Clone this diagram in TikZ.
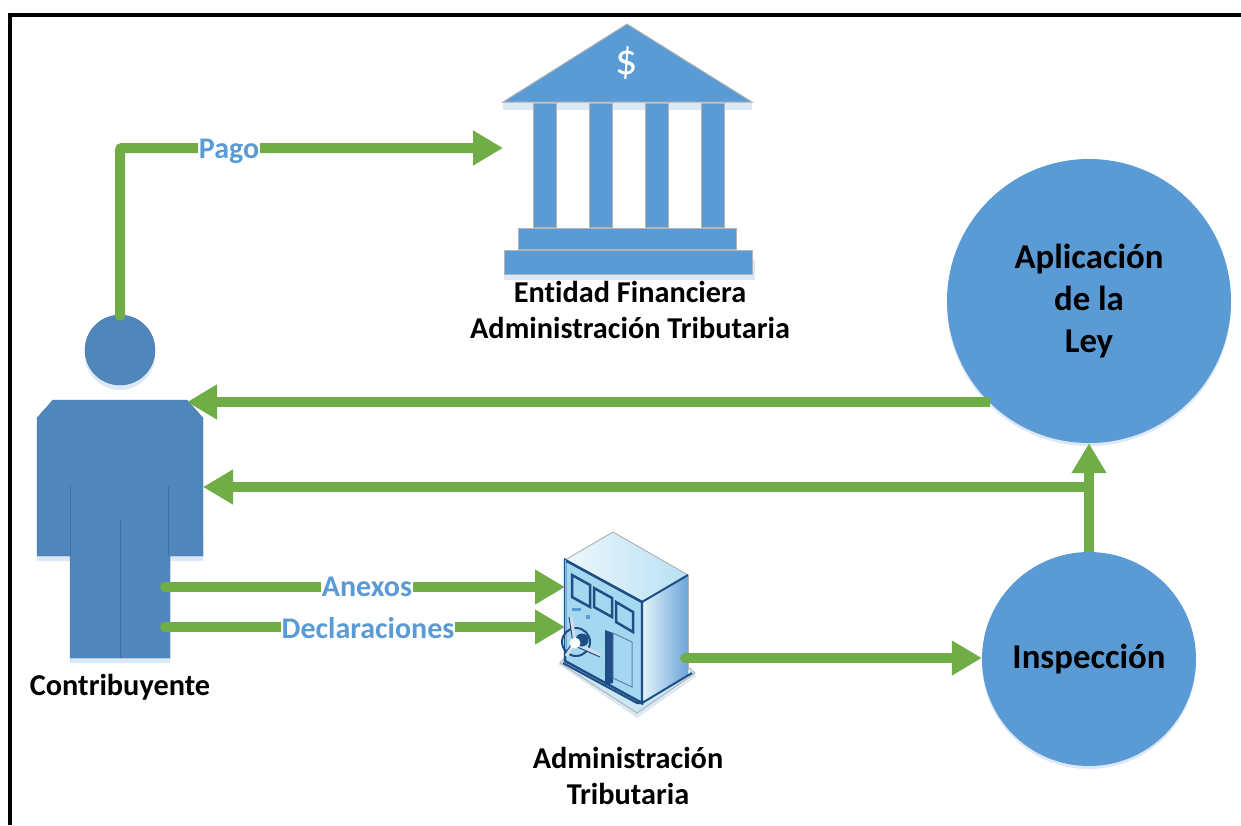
\documentclass[tikz,border=0pt]{standalone}
\usepackage{fontspec}
\setmainfont[RawFeature=-liga]{Carlito}
\usetikzlibrary{arrows.meta}
\definecolor{verde}{HTML}{70AD47}
\definecolor{azul}{HTML}{5B9BD5}
\definecolor{azulper}{HTML}{4F86BB}
\definecolor{linper}{HTML}{41719C}
\definecolor{sombra}{HTML}{DCE8F5}
\definecolor{marino}{HTML}{1F4E85}
\definecolor{celeste}{HTML}{A5D8F0}
\definecolor{borde}{HTML}{B4B4B4}
\begin{document}
\begin{tikzpicture}[x=1pt,y=-1pt,
    flecha/.style={draw=verde,line width=10pt,-{Triangle[length=30pt,width=33pt]}},
    etiqueta/.style={fill=white,text=azul,font=\fontsize{30}{34}\selectfont\bfseries,inner sep=1pt},
    titulo/.style={font=\fontsize{30.3}{36}\selectfont\bfseries,align=center,inner sep=0pt},
    circulo/.style={circle,fill=azul,inner sep=0pt,font=\fontsize{34.8}{42}\selectfont\bfseries,align=center},
    banco/.style={fill=azul,draw=borde,line width=1pt},
    ventana/.style={fill=celeste,draw=marino,line width=2.5pt}]
    \useasboundingbox (0,0) rectangle (1241,825);
    \fill[white] (0,0) rectangle (1241,825);
    \draw[line width=4pt] (10,825) -- (10,15) -- (1241,15);

    \fill[sombra] (120,355) circle (35); \fill[sombra] (37,561) -- (70,561) -- (70,663) -- (170,663) -- (170,561) -- (203,561) -- (203,540) -- (37,540) -- cycle;
    \node[circle,minimum size=70pt,inner sep=0pt,fill=azulper,draw=linper] (cabeza) at (120,350) {};
    \fill[azulper,draw=linper] (53,400) -- (187,400) -- (203,418) -- (203,556) -- (170,556) -- (170,658) -- (70,658) -- (70,556) -- (37,556) -- (37,418) -- cycle;
    \draw[linper,line width=1pt] (70,486) -- (70,556); \draw[linper,line width=1pt] (168,486) -- (168,556); \draw[linper,line width=1pt] (120,520) -- (120,658);
    \node[titulo] (contribuyente) at (120,687) {Contribuyente};
    \coordinate (hombro) at (187,402); \coordinate (cadera) at (203,487);
    \coordinate (piernauno) at (165,587); \coordinate (piernados) at (165,627);

    \fill[sombra] (503,102) rectangle (752,110); \fill[sombra] (504,260) rectangle (755,280);
    \draw[banco] (503,102) -- (627,24) -- (752,102) -- cycle;
    \foreach \x in {533,589,645,701} {\draw[banco] (\x,103) rectangle ++(23,124);}
    \draw[banco] (518,228) rectangle (736,249); \draw[banco] (504,250) rectangle (752,274);
    \node[text=white,font=\fontsize{44}{44}\selectfont,inner sep=0pt] (dolar) at (627,63) {\$};
    \node[titulo] (entidad) at (630,310) {Entidad Financiera\\Administración Tributaria};
    \coordinate (bancoizq) at (503,148);

    \fill[sombra] (558,664) -- (637,718) -- (697,676) -- (640,640) -- cycle;
    \fill[celeste!60!white,draw=borde,line width=1pt] (560,663) -- (565,657) -- (640,697) -- (690,668) -- (695,673) -- (637,713) -- cycle;
    \shade[left color=white!80!celeste,right color=celeste!80!white,draw=borde,line width=1pt] (565,560) -- (613,532) -- (688,575) -- (642,602) -- cycle;
    \fill[ventana,draw=marino] (565,560) -- (642,602) -- (642,703) -- (565,661) -- cycle;
    \shade[left color=white!70!celeste,right color=azul!90!white] (642,602) -- (688,575) -- (688,675) -- (642,703) -- cycle;
    \draw[marino,line width=2pt] (565,560) -- (642,602) -- (688,575); \draw[marino,line width=2pt] (642,602) -- (642,703) -- (692,673);
    \draw[marino,line width=2pt] (563,663) -- (637,703) -- (642,703);
    \draw[borde,line width=1pt] (688,575) -- (688,670); \draw[borde,line width=1pt] (565,560) -- (565,650);
    \draw[ventana] (572,575) -- (590,585) -- (590,607) -- (572,597) -- cycle;
    \draw[ventana] (594,588) -- (612,598) -- (612,617) -- (594,607) -- cycle;
    \draw[ventana] (616,602) -- (633,612) -- (633,632) -- (616,622) -- cycle;
    \fill[marino] (605,630) -- (613,633) -- (613,683) -- (605,685) -- cycle;
    \draw[fill=celeste,draw=marino!70!white,line width=1pt] (613,633) -- (632,642) -- (632,687) -- (613,678) -- cycle;
    \fill[azul] (572,608) rectangle (581,611); \fill[azul] (586,615) rectangle (590,619);
    \draw[marino,line width=2pt] (576,642) circle (14);
    \draw[white!80!marino,line width=3.5pt] (575,643) -- (571,617); \draw[marino,line width=1pt] (573,643) -- (569,617);
    \draw[white!80!marino,line width=3.5pt] (575,643) -- (600,655); \draw[marino,line width=1pt] (575,646) -- (600,657);
    \draw[white!80!marino,line width=3.5pt] (575,643) -- (566,656); \draw[marino,line width=1pt] (573,642) -- (564,655);
    \fill[marino] (582,640) circle (6.5); \fill[white] (575,643) circle (5.5);
    \node[inner sep=0pt,minimum width=120pt,minimum height=170pt] (caja) at (627,620) {};
    \coordinate (cajader) at (685,658); \coordinate (cajaa) at (565,587); \coordinate (cajab) at (565,627);
    \node[titulo] (administracion) at (628,776) {Administración\\Tributaria};

    \fill[sombra] (1089,304) circle (142); \fill[sombra] (1089,662) circle (107);
    \node[circulo,minimum size=284pt] (aplicacion) at (1089,301) {Aplicación\\de la\\Ley};
    \node[circulo,minimum size=214pt] (inspeccion) at (1089,659) {Inspección};

    \draw[flecha,line cap=round,rounded corners=2pt] (cabeza.center |- 0,316) -- (120,148) -- (bancoizq);
    \draw[flecha,line cap=round] (piernauno) -- (cajaa);
    \draw[flecha,line cap=round] (piernados) -- (cajab);
    \draw[flecha,line cap=round] (cajader) -- (inspeccion.west |- cajader);
    \draw[flecha] (inspeccion.north) -- (aplicacion.south);
    \draw[flecha] (aplicacion.-134 |- hombro) -- (hombro);
    \draw[flecha] (inspeccion.north |- cadera) -- (cadera);
    \node[etiqueta] (pago) at (229,151) {Pago};
    \node[etiqueta] (anexos) at (367,587) {Anexos};
    \node[etiqueta] (declaraciones) at (368,628) {Declaraciones};
\end{tikzpicture}
\end{document}
